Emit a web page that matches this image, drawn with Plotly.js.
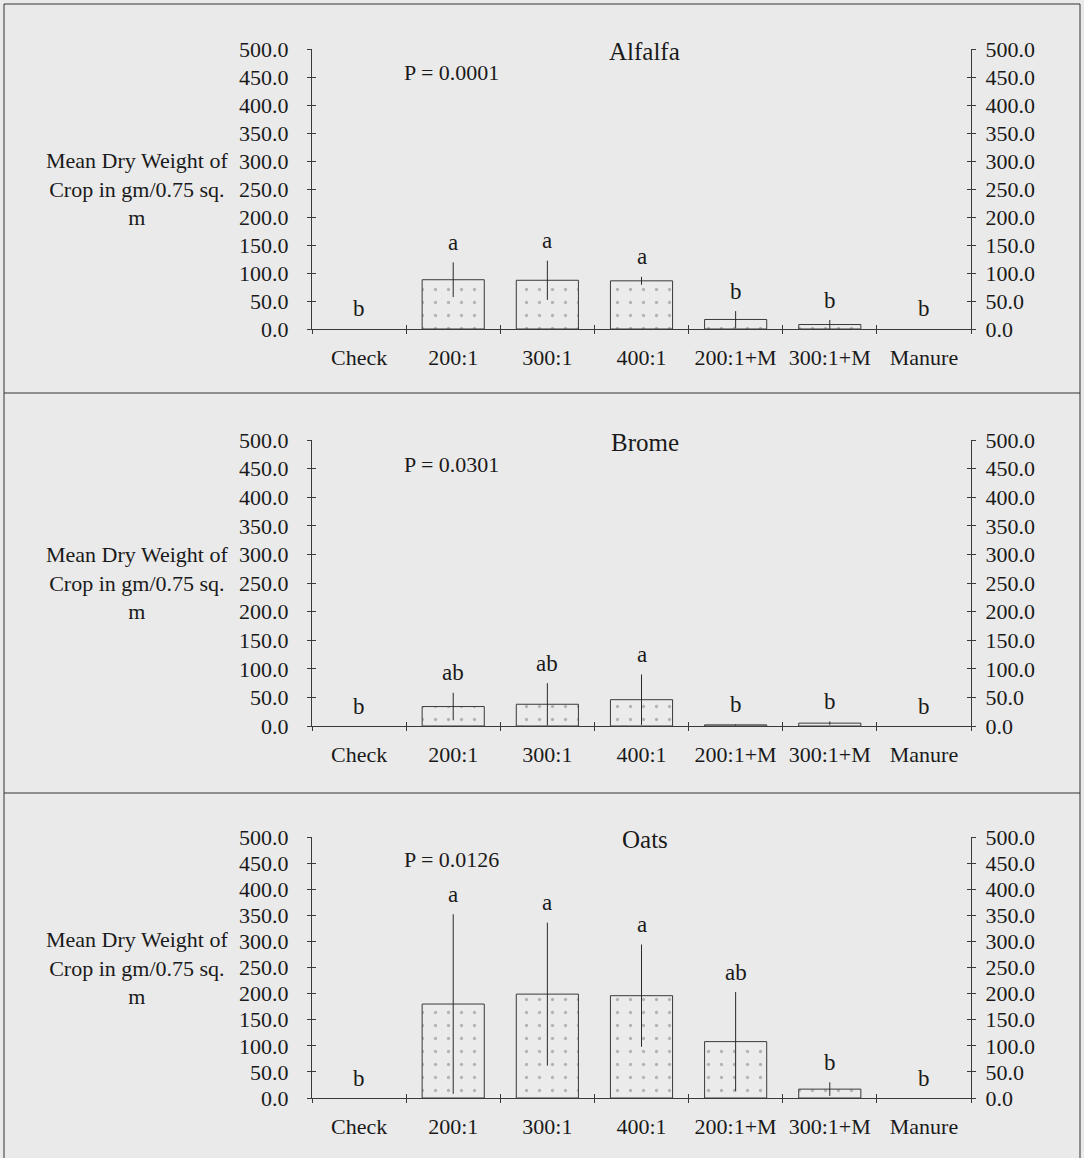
<!DOCTYPE html>
<html>
<head>
<meta charset="utf-8">
<script src="https://cdn.plot.ly/plotly-3.0.1.min.js"></script>
<style>
  html, body { margin: 0; padding: 0; background: #eaeaea; }
  #chart { width: 1084px; height: 1158px; }
</style>
</head>
<body>
<div id="chart"></div>
<script>
// Treatments along the x axis
const categories = ['Check', '200:1', '300:1', '400:1', '200:1+M', '300:1+M', 'Manure'];

// Alfalfa: mean dry weight, standard deviation, mean-separation letters
const alfalfaMean = [0, 88, 87, 86, 17, 8, 0];
const alfalfaSD = [0, 31, 35, 7, 15, 8, 0];
const alfalfaLetters = ['b', 'a', 'a', 'a', 'b', 'b', 'b'];

// Brome
const bromeMean = [0, 34, 38, 46, 2, 5, 0];
const bromeSD = [0, 24, 37, 44, 1, 3, 0];
const bromeLetters = ['b', 'ab', 'ab', 'a', 'b', 'b', 'b'];

// Oats
const oatsMean = [0, 180, 199, 196, 108, 17, 0];
const oatsSD = [0, 172, 137, 98, 95, 13, 0];
const oatsLetters = ['b', 'a', 'a', 'a', 'ab', 'b', 'b'];

const cropNames = ['Alfalfa', 'Brome', 'Oats'];
const pValues = ['0.0001', '0.0301', '0.0126'];
const yTickValues = [0, 50, 100, 150, 200, 250, 300, 350, 400, 450, 500];
const yAxisTitle = 'Mean Dry Weight of<br>Crop in gm/0.75 sq.<br>m';

const panels = [
  { name: cropNames[0], p: pValues[0], mean: alfalfaMean, sd: alfalfaSD, letters: alfalfaLetters },
  { name: cropNames[1], p: pValues[1], mean: bromeMean, sd: bromeSD, letters: bromeLetters },
  { name: cropNames[2], p: pValues[2], mean: oatsMean, sd: oatsSD, letters: oatsLetters }
];

// ---- page geometry (pixels) ----
const W = 1084, H = 1158;
const px = v => v / W;
const py = v => 1 - v / H;
const plotLeft = 312, plotRight = 971;
const panelRows = [[49, 329], [440, 726], [837, 1098]];

const FONT = 'Liberation Serif, Times New Roman, serif';
const INK = '#1a1a1a';
const LINE = '#3a3a3a';
const BG = '#eaeaea';
const BAR = '#ebebeb';

const id = n => (n === 1 ? '' : String(n));

const data = [];
const layout = {
  width: W, height: H,
  margin: { l: 0, r: 0, t: 0, b: 0 },
  paper_bgcolor: BG,
  plot_bgcolor: 'rgba(0,0,0,0)',
  showlegend: false,
  font: { family: FONT, color: INK, size: 22 },
  annotations: [],
  shapes: []
};

panels.forEach((pan, i) => {
  const xb = 2 * i + 1, xo = 2 * i + 2;
  const yb = 4 * i + 1, yr = 4 * i + 2, yli = 4 * i + 3, yri = 4 * i + 4;
  const xRef = 'x' + id(xb), yRef = 'y' + id(yb);
  const [top, bottom] = panelRows[i];

  data.push({
    type: 'bar',
    x: categories,
    y: pan.mean,
    xaxis: xRef,
    yaxis: yRef,
    width: 0.66,
    marker: {
      color: BAR,
      line: { color: LINE, width: pan.mean.map(v => (v > 0 ? 1 : 0)) },
      pattern: { shape: '.', fgcolor: '#b4b4b4', bgcolor: BAR, size: 13, solidity: 0.05 }
    },
    error_y: { type: 'data', array: pan.sd, visible: true, width: 0, thickness: 1, color: '#2a2a2a' },
    hoverinfo: 'skip'
  });

  // empty traces so that the extra tick-only axes get drawn
  [[xo, yb], [xb, yr], [xb, yli], [xb, yri]].forEach(([xa, ya]) => {
    data.push({ type: 'scatter', mode: 'markers', x: [], y: [],
      xaxis: 'x' + id(xa), yaxis: 'y' + id(ya), hoverinfo: 'skip' });
  });

  const yCommon = {
    range: [0, 500], tickvals: yTickValues, tickformat: '.1f', autorange: false,
    showgrid: false, zeroline: false, fixedrange: true,
    tickcolor: LINE, linecolor: LINE, linewidth: 1, ticklen: 4,
    tickfont: { family: FONT, size: 22, color: INK }
  };

  layout['xaxis' + id(xb)] = {
    domain: [px(plotLeft), px(plotRight)], anchor: yRef, type: 'category',
    range: [-0.5, 6.5], autorange: false, showline: true, linecolor: LINE, linewidth: 1,
    ticks: 'outside', ticklen: 4, tickcolor: LINE, tickson: 'boundaries',
    showgrid: false, zeroline: false, fixedrange: true,
    tickfont: { family: FONT, size: 22, color: INK }, ticklabelstandoff: 9
  };
  layout['xaxis' + id(xo)] = {
    overlaying: xRef, anchor: yRef, type: 'linear', range: [-0.5, 6.5], autorange: false,
    tick0: -0.5, dtick: 1,
    ticks: 'inside', ticklen: 4, tickcolor: LINE, showticklabels: false,
    showline: false, showgrid: false, zeroline: false, fixedrange: true
  };

  layout['yaxis' + id(yb)] = Object.assign({}, yCommon, {
    domain: [py(bottom), py(top)], anchor: xRef, side: 'left',
    ticks: 'outside', showline: true, ticklabelstandoff: 14
  });
  layout['yaxis' + id(yr)] = Object.assign({}, yCommon, {
    overlaying: yRef, anchor: xRef, side: 'right',
    ticks: 'outside', showline: true, ticklabelstandoff: 5
  });
  layout['yaxis' + id(yli)] = Object.assign({}, yCommon, {
    overlaying: yRef, anchor: xRef, side: 'left',
    ticks: 'inside', showline: false, showticklabels: false
  });
  layout['yaxis' + id(yri)] = Object.assign({}, yCommon, {
    overlaying: yRef, anchor: xRef, side: 'right',
    ticks: 'inside', showline: false, showticklabels: false
  });

  // crop name and ANOVA probability
  layout.annotations.push({
    text: pan.name, xref: xRef + ' domain', yref: yRef + ' domain',
    x: 0.505, y: 0.99, xanchor: 'center', yanchor: 'middle', showarrow: false,
    font: { family: FONT, size: 25, color: INK }
  });
  layout.annotations.push({
    text: 'P = ' + pan.p, xref: xRef + ' domain', yref: yRef + ' domain',
    x: 0.136, y: 0.915, xanchor: 'left', yanchor: 'middle', showarrow: false,
    font: { family: FONT, size: 22, color: INK }
  });
  // y axis title, left of the tick labels
  layout.annotations.push({
    text: yAxisTitle, xref: 'paper', yref: yRef + ' domain',
    x: px(137), y: 0.5, xanchor: 'center', yanchor: 'middle', align: 'center',
    showarrow: false, font: { family: FONT, size: 22, color: INK }
  });
  // mean-separation letters above each error bar
  categories.forEach((c, j) => {
    layout.annotations.push({
      text: pan.letters[j], xref: xRef, yref: yRef,
      x: c, y: pan.mean[j] + pan.sd[j], yshift: 20,
      xanchor: 'center', yanchor: 'middle', showarrow: false,
      font: { family: FONT, size: 23, color: INK }
    });
  });
});

// outer frame and panel separators
const frame = { type: 'line', xref: 'paper', yref: 'paper', line: { color: '#333', width: 1 } };
layout.shapes.push(Object.assign({}, frame, { x0: px(4), x1: px(4), y0: py(4), y1: py(1160) }));
layout.shapes.push(Object.assign({}, frame, { x0: px(1080), x1: px(1080), y0: py(4), y1: py(1160) }));
layout.shapes.push(Object.assign({}, frame, { x0: px(4), x1: px(1080), y0: py(4), y1: py(4) }));
layout.shapes.push(Object.assign({}, frame, { x0: px(4), x1: px(1080), y0: py(393), y1: py(393) }));
layout.shapes.push(Object.assign({}, frame, { x0: px(4), x1: px(1080), y0: py(793), y1: py(793) }));

Plotly.newPlot('chart', data, layout, { staticPlot: true, displayModeBar: false });
</script>
</body>
</html>
